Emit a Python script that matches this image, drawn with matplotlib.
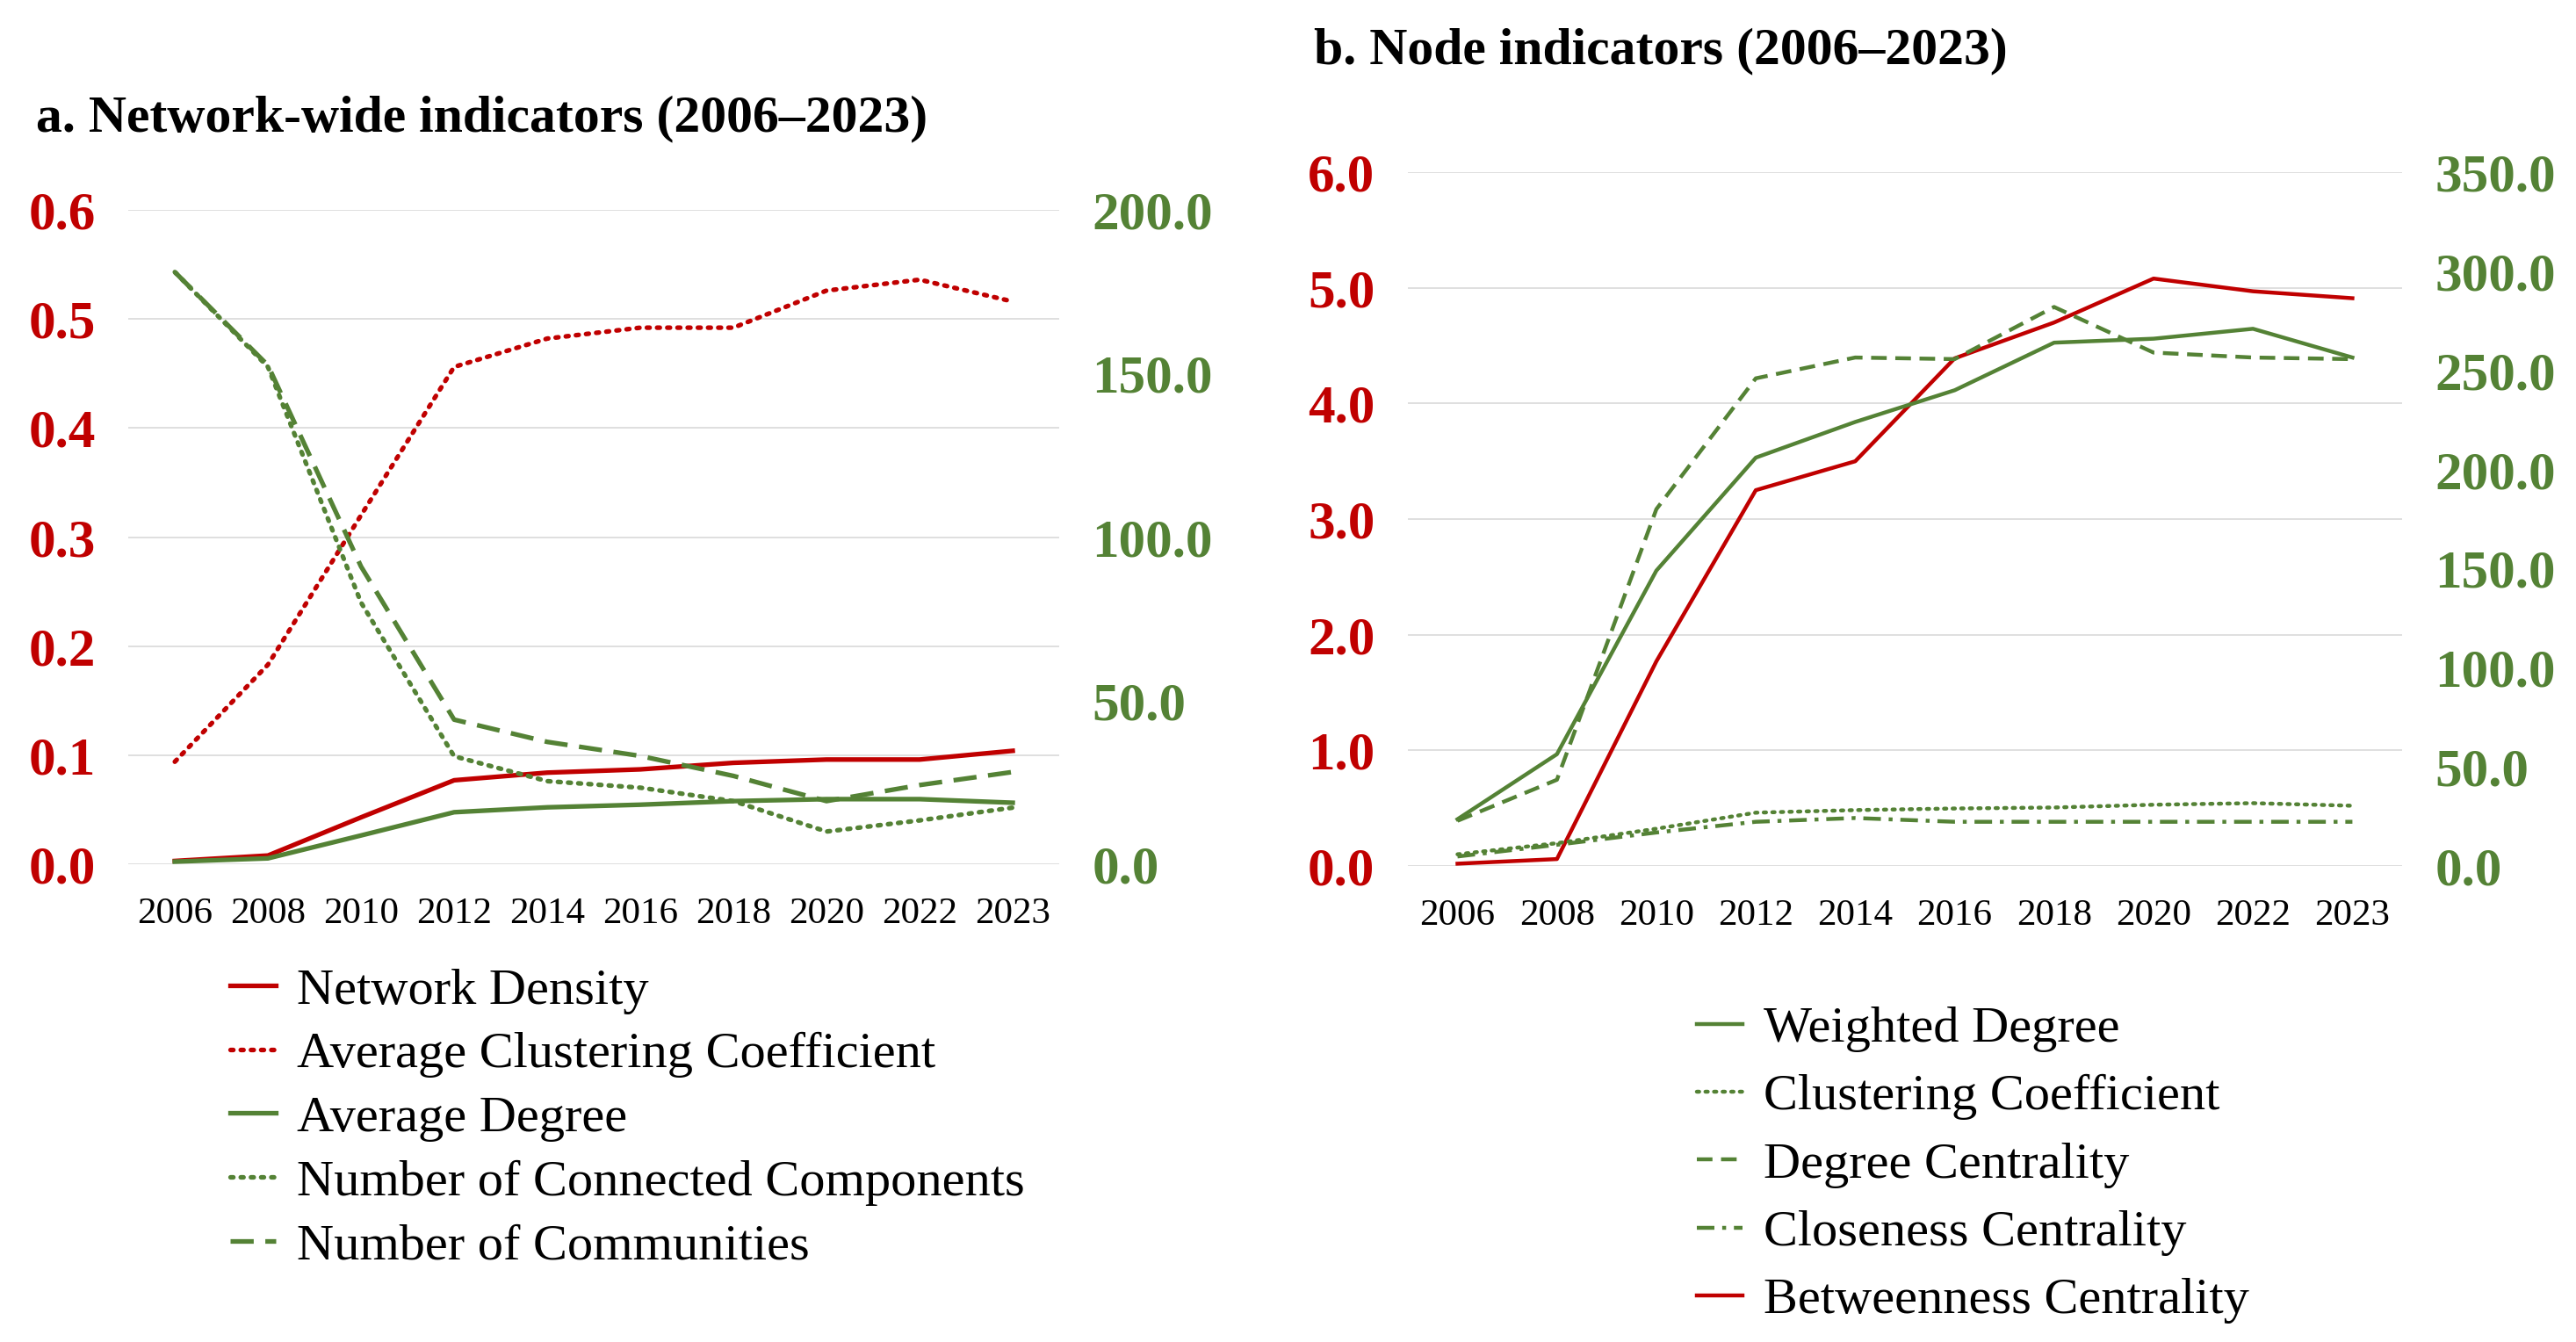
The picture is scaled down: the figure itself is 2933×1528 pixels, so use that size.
import matplotlib
matplotlib.use('Agg')
import matplotlib.pyplot as plt
from matplotlib.ticker import FormatStrFormatter
import numpy as np

plt.rcParams['font.family'] = ['Liberation Serif', 'DejaVu Serif']

years = ['2006', '2008', '2010', '2012', '2014', '2016', '2018', '2020', '2022', '2023']

# a. network-wide indicators
network_density = [0.003, 0.008, 0.043, 0.077, 0.084, 0.087, 0.093, 0.096, 0.096, 0.104]
avg_clustering = [0.094, 0.183, 0.32, 0.456, 0.482, 0.492, 0.492, 0.526, 0.536, 0.516]
avg_degree = [0.8, 1.8, 8.8, 15.9, 17.4, 18.2, 19.3, 19.9, 19.9, 18.8]
n_components = [181, 152, 80, 33, 25.4, 23.4, 19.3, 10, 13.4, 17.3]
n_communities = [181, 152.5, 91, 44.2, 37.4, 33.1, 27, 19.3, 24.2, 28.2]

# b. node indicators
betweenness = [0.02, 0.06, 1.77, 3.25, 3.50, 4.39, 4.70, 5.08, 4.97, 4.91]
weighted_degree = [23.6, 56.4, 149, 206, 224, 240, 264, 266, 271, 256.5]
node_clustering = [5.9, 11.5, 18.8, 26.9, 28.2, 29.0, 29.5, 30.9, 31.7, 30.4]
degree_centrality = [22.8, 43.5, 180, 246, 256.5, 255.7, 282, 259, 256.5, 255.7]
closeness = [4.8, 10.7, 16.9, 22.3, 24.2, 22.3, 22.3, 22.3, 22.3, 22.3]

RED = '#C00000'
GREEN = '#548235'
GRID = '#D9D9D9'

DOT = (0, (0.6, 1.6))


def style_axes(ax, ax2, ylim, ylim2, yticks, yticks2):
    x = np.arange(len(years))
    ax.set_xlim(-0.5, len(years) - 0.5)
    ax.set_ylim(*ylim)
    ax2.set_ylim(*ylim2)
    ax.set_yticks(yticks)
    ax2.set_yticks(yticks2)
    ax.set_xticks(x)
    ax.set_xticklabels(years)
    ax.yaxis.set_major_formatter(FormatStrFormatter('%.1f'))
    ax2.yaxis.set_major_formatter(FormatStrFormatter('%.1f'))
    ax.grid(axis='y', color=GRID, linewidth=1.2)
    ax.set_axisbelow(True)
    for a in (ax, ax2):
        for s in a.spines.values():
            s.set_visible(False)
        a.tick_params(length=0)
    ax.tick_params(axis='x', labelsize=31, pad=27, labelcolor='black')
    ax.tick_params(axis='y', labelsize=44, pad=27, labelcolor=RED)
    ax2.tick_params(axis='y', labelsize=44, pad=27, labelcolor=GREEN)
    for lab in ax.get_yticklabels() + ax2.get_yticklabels():
        lab.set_fontweight('bold')


fig = plt.figure(figsize=(29.33, 15.28), dpi=100)

# ---- panel a
axa = fig.add_axes([0.0498, 0.356, 0.3614, 0.4876])
axa2 = axa.twinx()
x = np.arange(len(years))
LW = 3.8
la1, = axa.plot(x, network_density, color=RED, lw=LW, label='Network Density')
la2, = axa.plot(x, avg_clustering, color=RED, lw=LW, ls=DOT, dash_capstyle='round',
                label='Average Clustering Coefficient')
la3, = axa2.plot(x, avg_degree, color=GREEN, lw=LW, label='Average Degree')
la4, = axa2.plot(x, n_components, color=GREEN, lw=LW, ls=DOT, dash_capstyle='round',
                 label='Number of Connected Components')
la5, = axa2.plot(x, n_communities, color=GREEN, lw=LW, ls=(0, (5, 2.5)),
                 label='Number of Communities')
style_axes(axa, axa2, (0, 0.6), (0, 200), np.arange(0, 0.61, 0.1), np.arange(0, 201, 50))
fig.text(0.014, 0.9117, 'a. Network-wide indicators (2006–2023)', fontsize=43,
         fontweight='bold', va='center', ha='left')
fig.legend(handles=[la1, la2, la3, la4, la5], loc='upper left',
           bbox_to_anchor=(0.0893, 0.279), frameon=False, fontsize=42,
           handlelength=0.9, handletextpad=0.4, labelspacing=0.34,
           borderpad=0, borderaxespad=0)

# ---- panel b
LW2 = 3.2
axb = fig.add_axes([0.5465, 0.3547, 0.386, 0.517])
axb2 = axb.twinx()
lb5, = axb.plot(x, betweenness, color=RED, lw=LW2, label='Betweenness Centrality')
lb1, = axb2.plot(x, weighted_degree, color=GREEN, lw=LW2, label='Weighted Degree')
lb2, = axb2.plot(x, node_clustering, color=GREEN, lw=LW2, ls=DOT, dash_capstyle='round',
                 label='Clustering Coefficient')
lb3, = axb2.plot(x, degree_centrality, color=GREEN, lw=LW2, ls=(0, (4, 2.2)),
                 label='Degree Centrality')
lb4, = axb2.plot(x, closeness, color=GREEN, lw=LW2, ls=(0, (4.5, 2, 1, 2)),
                 label='Closeness Centrality')
style_axes(axb, axb2, (0, 6), (0, 350), np.arange(0, 6.1, 1), np.arange(0, 351, 50))
fig.text(0.510, 0.962, 'b. Node indicators (2006–2023)', fontsize=43,
         fontweight='bold', va='center', ha='left')
fig.legend(handles=[lb1, lb2, lb3, lb4, lb5], loc='upper left',
           bbox_to_anchor=(0.6587, 0.2505), frameon=False, fontsize=42,
           handlelength=0.9, handletextpad=0.4, labelspacing=0.42,
           borderpad=0, borderaxespad=0)

fig.savefig('out.png', dpi=100)
